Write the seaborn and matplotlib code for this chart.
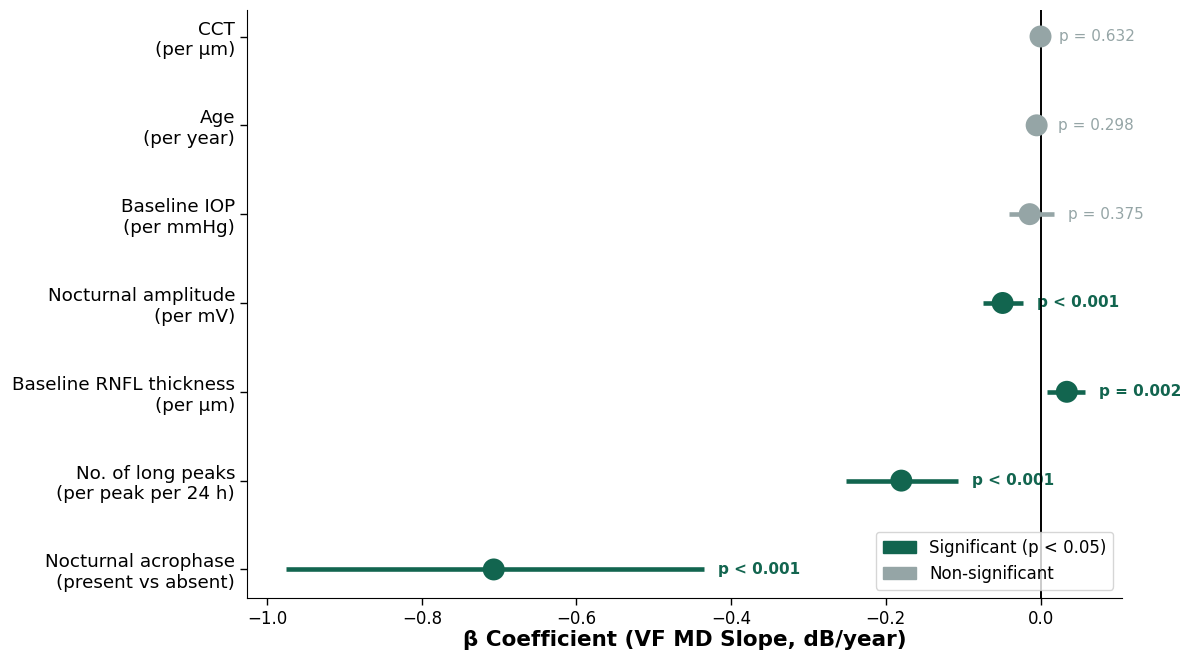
import numpy as np
import pandas as pd
import matplotlib
matplotlib.use("Agg")
import matplotlib.pyplot as plt
from matplotlib.patches import Patch
import seaborn as sns

sns.set_style("ticks")
plt.rcParams['font.family'] = ['DejaVu Sans']
for k in ['text.color', 'axes.labelcolor', 'xtick.color', 'ytick.color', 'axes.edgecolor']:
    plt.rcParams[k] = 'black'

labels = ['CCT\n(per µm)', 'Age\n(per year)', 'Baseline IOP\n(per mmHg)',
          'Nocturnal amplitude\n(per mV)', 'Baseline RNFL thickness\n(per µm)',
          'No. of long peaks\n(per peak per 24 h)', 'Nocturnal acrophase\n(present vs absent)']
beta = [0.000, -0.005, -0.014, -0.049, 0.034, -0.180, -0.707]
ci_low = [-0.004, -0.008, -0.041, -0.074, 0.009, -0.251, -0.975]
ci_high = [0.006, 0.005, 0.017, -0.023, 0.057, -0.107, -0.435]
p_text = ['p = 0.632', 'p = 0.298', 'p = 0.375', 'p < 0.001', 'p = 0.002', 'p < 0.001', 'p < 0.001']
significant = [False, False, False, True, True, True, True]

sig_color = '#12654f'
ns_color = '#95a5a6'

df = pd.DataFrame({'label': labels, 'beta': beta, 'lo': ci_low, 'hi': ci_high,
                   'p': p_text, 'sig': significant})
df['pos'] = np.arange(len(df))
df['color'] = [sig_color if s else ns_color for s in df['sig']]

fig = plt.figure(figsize=(11.82, 6.57), dpi=100)
ax = fig.add_axes([0.209, 0.090, 0.740, 0.895])

ax.axvline(0, color='black', lw=1.4, zorder=3)
ax.hlines(df['pos'], df['lo'], df['hi'], colors=df['color'], lw=3.3, zorder=4)
sns.scatterplot(data=df, x='beta', y='pos', hue='sig', palette={True: sig_color, False: ns_color},
                s=250, edgecolor='none', legend=False, ax=ax, zorder=5)

for _, r in df.iterrows():
    ax.text(r['hi'] + 0.018, r['pos'], r['p'], va='center', ha='left', fontsize=11,
            color=r['color'], fontweight='bold' if r['sig'] else 'normal', zorder=2)

ax.set_yticks(df['pos'])
ax.set_yticklabels(df['label'], fontsize=13.2)
ax.tick_params(axis='both', length=5, width=1)
ax.tick_params(axis='x', labelsize=12)
ax.set_ylim(6.32, -0.3)
ax.set_xlim(-1.026, 0.105)
ax.set_ylabel('')
ax.set_xlabel('β Coefficient (VF MD Slope, dB/year)', fontsize=15.5, fontweight='bold', labelpad=2)
sns.despine(ax=ax)

handles = [Patch(color=sig_color, label='Significant (p < 0.05)'),
           Patch(color=ns_color, label='Non-significant')]
ax.legend(handles=handles, loc='lower right', fontsize=12)

fig.savefig('out.png', dpi=100)
